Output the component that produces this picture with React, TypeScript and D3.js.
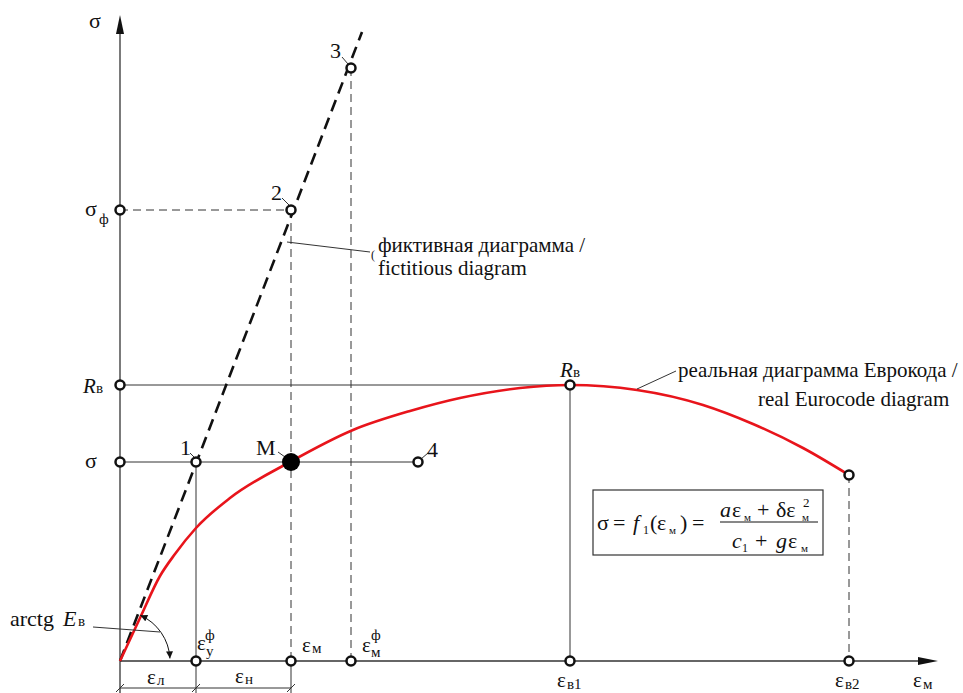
import React from "react";
import * as d3 from "d3";

// ---- data (strain / stress in drawing units) ----
const strainValues = [76, 171, 231, 450, 729]; // ε_у^ф, ε_м, ε_м^ф, ε_в1, ε_в2
const stressValues = [199, 276, 451, 593]; // σ, R_в, σ_ф, σ at point 3
const point4Strain = 298;
const axisMax = [820, 646];
const fictStrain = [0, 242];
const fictStress = [0, 629];
const realStrain = [0, 20, 40, 55, 76, 110, 170, 233, 290, 340, 400, 450, 517, 583, 633, 683, 729];
const realStress = [0, 43, 85, 107, 133, 163, 199, 231, 250, 263, 273, 276, 271, 256, 237, 213, 186];

const W = 963;
const H = 693;
const FONT = "'Liberation Serif', 'Times New Roman', 'DejaVu Serif', serif";

export default function App() {
  const x = d3.scaleLinear().domain([0, axisMax[0]]).range([120, 940]);
  const y = d3.scaleLinear().domain([0, axisMax[1]]).range([661, 15]);

  const [eYF, eM, eMF, eB1, eB2] = strainValues;
  const [sS, sR, sF, s3] = stressValues;
  const endStress = realStress[realStress.length - 1];

  const realPts: [number, number][] = realStrain.map((e, i) => [e, realStress[i]]);
  const realLine = d3
    .line<[number, number]>()
    .x((d) => x(d[0]))
    .y((d) => y(d[1]))
    .curve(d3.curveMonotoneX)(realPts);

  const fictLine = d3
    .line<number>()
    .x((d) => x(fictStrain[d]))
    .y((d) => y(fictStress[d]))(fictStress.map((_, i) => i));

  const ox = x(0);
  const oy = y(0);

  const arcPath = d3.path();
  const a0 = (-66 * Math.PI) / 180;
  const a1 = (-3 * Math.PI) / 180;
  arcPath.moveTo(ox + 50 * Math.cos(a0), oy + 50 * Math.sin(a0));
  arcPath.arc(ox, oy, 50, a0, a1, false);

  const gray = "#333";
  const thin = { stroke: gray, strokeWidth: 1 };
  const dashed = { stroke: gray, strokeWidth: 1, strokeDasharray: "8 5" };

  const openPts: [number, number][] = [
    [0, sF],
    [eM, sF],
    [eMF, s3],
    [0, sR],
    [eB1, sR],
    [0, sS],
    [eYF, sS],
    [point4Strain, sS],
    [eB2, endStress],
    [eYF, 0],
    [eM, 0],
    [eMF, 0],
    [eB1, 0],
    [eB2, 0],
  ];

  const dimY = 688;
  const txt = { fontFamily: FONT, fill: "#111" } as const;

  const tick = (px: number) => (
    <line key={"t" + px} x1={px - 4} y1={dimY + 4} x2={px + 4} y2={dimY - 4} stroke={gray} strokeWidth={1} />
  );

  return (
    <svg
      width={W}
      height={H}
      style={{ position: "absolute", left: 0, top: 0, background: "#fff" }}
    >
      <defs>
        <marker
          id="arr"
          viewBox="0 0 10 10"
          refX={10}
          refY={5}
          markerWidth={9}
          markerHeight={7}
          markerUnits="userSpaceOnUse"
          orient="auto-start-reverse"
        >
          <path d="M0,0 L10,5 L0,10 z" fill="#111" />
        </marker>
      </defs>
      <rect width={W} height={H} fill="#fff" />

      {/* axes */}
      <line x1={ox} y1={H} x2={ox} y2={30} stroke={gray} strokeWidth={1.3} />
      <path d={`M${ox},15 L${ox - 4},34 L${ox + 4},34 Z`} fill="#111" />
      <line x1={ox} y1={oy} x2={920} y2={oy} stroke={gray} strokeWidth={1.3} />
      <path d={`M938,${oy} L918,${oy - 4} L918,${oy + 4} Z`} fill="#111" />

      {/* guide lines */}
      <line x1={ox} y1={y(sF)} x2={x(eM)} y2={y(sF)} {...dashed} />
      <line x1={x(eM)} y1={y(sF)} x2={x(eM)} y2={oy} {...dashed} />
      <line x1={x(eMF)} y1={y(s3)} x2={x(eMF)} y2={oy} {...dashed} />
      <line x1={x(eB2)} y1={y(endStress)} x2={x(eB2)} y2={oy} {...dashed} />
      <line x1={ox} y1={y(sR)} x2={x(eB1)} y2={y(sR)} {...thin} />
      <line x1={ox} y1={y(sS)} x2={x(point4Strain)} y2={y(sS)} {...thin} />
      <line x1={x(eYF)} y1={y(sS)} x2={x(eYF)} y2={H} {...thin} />
      <line x1={x(eB1)} y1={y(sR)} x2={x(eB1)} y2={oy} {...thin} />
      <line x1={x(eM)} y1={oy} x2={x(eM)} y2={H} {...thin} />

      {/* dimension line */}
      <line x1={ox} y1={dimY} x2={x(eM)} y2={dimY} {...thin} />
      {tick(ox)}
      {tick(x(eYF))}
      {tick(x(eM))}

      {/* fictitious diagram */}
      <path d={fictLine || ""} fill="none" stroke="#111" strokeWidth={2.6} strokeDasharray="12 7" />

      {/* real diagram */}
      <path d={realLine || ""} fill="none" stroke="#e8141b" strokeWidth={2.6} />

      {/* angle arc */}
      <path
        d={arcPath.toString()}
        fill="none"
        stroke="#111"
        strokeWidth={1}
        markerStart="url(#arr)"
        markerEnd="url(#arr)"
      />

      {/* leader lines */}
      <line x1={93} y1={627} x2={160} y2={632} {...thin} />
      <line x1={287} y1={242} x2={370} y2={252} {...thin} />
      <line x1={637} y1={389} x2={676} y2={371} {...thin} />
      <line x1={190} y1={453} x2={195} y2={458} {...thin} />
      <line x1={278} y1={452} x2={285} y2={457} {...thin} />
      <line x1={282} y1={198} x2={289} y2={205} {...thin} />
      <line x1={342} y1={57} x2={348} y2={64} {...thin} />
      <line x1={421} y1={459} x2={428} y2={453} {...thin} />

      {/* points */}
      {openPts.map(([e, s], i) => (
        <circle key={i} cx={x(e)} cy={y(s)} r={4.5} fill="#fff" stroke="#111" strokeWidth={2.5} />
      ))}
      <circle cx={x(eM)} cy={y(sS)} r={9} fill="#000" />

      {/* y-axis labels */}
      <text x={89} y={28} fontSize={22} {...txt}>σ</text>
      <text x={85} y={216} fontSize={22} {...txt}>σ</text>
      <text x={99} y={224} fontSize={15} {...txt}>ф</text>
      <text x={83} y={393} fontSize={21} fontStyle="italic" {...txt}>R</text>
      <text x={96} y={393} fontSize={15} {...txt}>в</text>
      <text x={85} y={468} fontSize={22} {...txt}>σ</text>

      {/* point labels */}
      <text x={180} y={455} fontSize={22} {...txt}>1</text>
      <text x={271} y={200} fontSize={22} {...txt}>2</text>
      <text x={330} y={58} fontSize={22} {...txt}>3</text>
      <text x={427} y={457} fontSize={22} {...txt}>4</text>
      <text x={256} y={455} fontSize={22} {...txt}>M</text>
      <text x={560} y={377} fontSize={21} fontStyle="italic" {...txt}>R</text>
      <text x={573} y={377} fontSize={15} {...txt}>в</text>

      {/* x-axis labels */}
      <text x={197} y={650} fontSize={21} {...txt}>ε</text>
      <text x={205} y={640} fontSize={15} {...txt}>ф</text>
      <text x={206} y={656} fontSize={15} {...txt}>у</text>
      <text x={302} y={652} fontSize={21} {...txt}>ε</text>
      <text x={312} y={653} fontSize={15} {...txt}>м</text>
      <text x={362} y={652} fontSize={21} {...txt}>ε</text>
      <text x={371} y={640} fontSize={15} {...txt}>ф</text>
      <text x={371} y={657} fontSize={15} {...txt}>м</text>
      <text x={147} y={684} fontSize={21} {...txt}>ε</text>
      <text x={157} y={685} fontSize={15} {...txt}>л</text>
      <text x={235} y={683} fontSize={21} {...txt}>ε</text>
      <text x={245} y={684} fontSize={15} {...txt}>н</text>
      <text x={557} y={687} fontSize={21} {...txt}>ε</text>
      <text x={567} y={689} fontSize={15} {...txt}>в1</text>
      <text x={835} y={687} fontSize={21} {...txt}>ε</text>
      <text x={845} y={689} fontSize={15} {...txt}>в2</text>
      <text x={913} y={687} fontSize={21} {...txt}>ε</text>
      <text x={923} y={689} fontSize={15} {...txt}>м</text>

      {/* arctg label */}
      <text x={10} y={626} fontSize={22} {...txt}>arctg</text>
      <text x={63} y={626} fontSize={22} fontStyle="italic" {...txt}>E</text>
      <text x={78} y={626} fontSize={15} {...txt}>в</text>

      {/* diagram captions */}
      <text x={371} y={259} fontSize={12} {...txt}>(</text>
      <text x={378} y={252} fontSize={21} {...txt}>фиктивная диаграмма /</text>
      <text x={378} y={275} fontSize={21} {...txt}>fictitious diagram</text>
      <text x={678} y={377} fontSize={21} {...txt}>реальная диаграмма Еврокода /</text>
      <text x={758} y={406} fontSize={21} {...txt}>real Eurocode diagram</text>

      {/* formula box */}
      <rect x={593} y={490} width={230} height={65} fill="#fff" stroke={gray} strokeWidth={1.2} />
      <text x={597} y={530} fontSize={22} {...txt}>σ</text>
      <text x={613} y={530} fontSize={22} {...txt}>=</text>
      <text x={633} y={530} fontSize={22} fontStyle="italic" {...txt}>f</text>
      <text x={643} y={534} fontSize={12} {...txt}>1</text>
      <text x={650} y={530} fontSize={22} {...txt}>(</text>
      <text x={657} y={530} fontSize={22} {...txt}>ε</text>
      <text x={669} y={534} fontSize={11} {...txt}>м</text>
      <text x={680} y={530} fontSize={22} {...txt}>)</text>
      <text x={692} y={530} fontSize={22} {...txt}>=</text>
      <line x1={720} y1={522} x2={818} y2={522} stroke="#111" strokeWidth={1} />
      <text x={720} y={517} fontSize={22} fontStyle="italic" {...txt}>a</text>
      <text x={732} y={517} fontSize={22} {...txt}>ε</text>
      <text x={744} y={521} fontSize={11} {...txt}>м</text>
      <text x={757} y={517} fontSize={22} {...txt}>+</text>
      <text x={776} y={517} fontSize={22} {...txt}>δε</text>
      <text x={803} y={507} fontSize={13} {...txt}>2</text>
      <text x={802} y={521} fontSize={11} {...txt}>м</text>
      <text x={732} y={548} fontSize={22} fontStyle="italic" {...txt}>c</text>
      <text x={742} y={552} fontSize={12} {...txt}>1</text>
      <text x={755} y={548} fontSize={22} {...txt}>+</text>
      <text x={776} y={548} fontSize={22} fontStyle="italic" {...txt}>g</text>
      <text x={788} y={548} fontSize={22} {...txt}>ε</text>
      <text x={801} y={552} fontSize={11} {...txt}>м</text>
    </svg>
  );
}
